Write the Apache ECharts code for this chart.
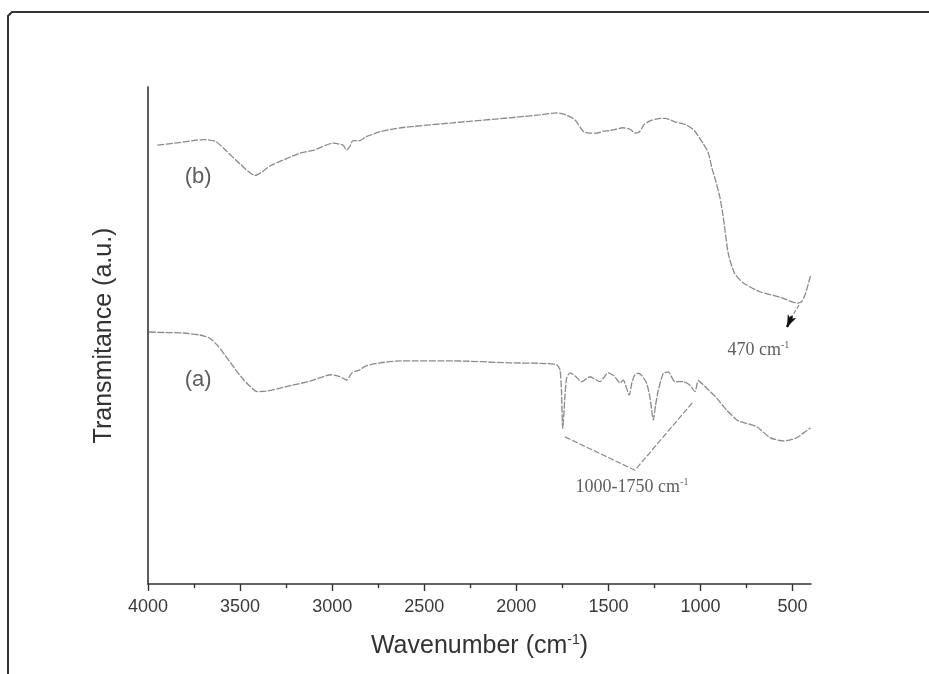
<!DOCTYPE html>
<html>
<head>
<meta charset="utf-8">
<script src="https://cdn.jsdelivr.net/npm/echarts@6/dist/echarts.min.js"></script>
<style>html,body{margin:0;padding:0;background:#fff;}#c{width:929px;height:674px;}</style>
</head>
<body>
<div id="c"></div>
<script>
// Wavenumber (cm-1) positions and transmittance (a.u.) values
var wavenumberB = [3949,3853,3737,3690,3631,3571,3500,3419,3381,3338,3175,3099,2995,2941,2922,2903,2887,2849,2816,2740,2626,2344,2037,1872,1779,1730,1682,1635,1600,1565,1529,1494,1459,1423,1383,1352,1329,1307,1274,1236,1193,1139,1079,1035,987,959,938,916,894,878,867,851,834,813,769,677,568,471,449,433,416,403];
var transB =     [88.3,88.7,89.3,89.4,89.0,87.0,84.5,82.2,82.9,84.1,86.7,87.3,88.7,88.3,87.3,88.1,89.2,89.2,90.0,91.0,91.8,92.8,93.8,94.4,94.8,94.4,93.4,91.0,90.7,90.7,91.1,91.2,91.5,91.8,91.5,90.7,91.1,92.4,93.2,93.6,93.7,93.0,92.4,91.3,88.7,86.9,83.7,80.9,77.7,74.2,71.2,66.8,64.4,62.4,60.6,58.8,57.7,56.5,56.9,58.1,60.2,62.0];

var wavenumberA = [3996,3908,3807,3718,3666,3620,3571,3528,3479,3446,3408,3359,3283,3218,3120,3006,2957,2922,2892,2851,2816,2740,2626,2344,2037,1872,1781,1763,1755,1748,1736,1727,1709,1682,1645,1600,1546,1501,1470,1437,1419,1387,1372,1356,1338,1318,1292,1274,1256,1244,1229,1202,1175,1139,1094,1057,1030,1012,966,912,858,803,786,693,621,549,479,433,403];
var transA =      [50.7,50.6,50.5,50.1,49.5,47.9,45.5,43.3,41.0,39.8,38.7,38.8,39.4,40.0,40.8,42.1,41.7,41.0,42.5,43.1,43.9,44.5,44.9,44.9,44.5,44.4,44.1,43.1,39.0,31.3,37.7,41.4,42.5,41.9,40.7,41.7,40.7,42.5,41.9,40.5,41.0,38.0,40.6,42.1,42.4,41.9,40.4,37.4,33.0,36.0,39.0,42.4,42.7,40.7,40.7,40.0,38.7,40.9,39.4,37.4,35.0,33.0,32.7,31.6,29.4,28.8,29.4,30.6,31.4];

// annotation bracket (1000-1750 region) and pointer to the 470 band
var bracketW = [1736,1356,1039];
var bracketT = [29.6,22.9,36.7];
var pointerW = [465,503];
var pointerT = [56.1,53.9];
var arrowFrom = [503,53.9];
var arrowTo = [530,51.7];

var majorTicks = [4000,3500,3000,2500,2000,1500,1000,500];
var minorTicks = [3750,3250,2750,2250,1750,1250,750];

var labelsText = [
  {name:'(b)', w:3728, t:81.9},
  {name:'(a)', w:3728, t:41.0}
];
var peakLabels = [
  {text:'{n|470 cm}{s|-1}', w:686, t:47.0},
  {text:'{n|1000-1750 cm}{s|-1}', w:1372, t:19.5}
];

function zip(xs, ys){ return xs.map(function(x,i){return [x, ys[i]];}); }

var chart = echarts.init(document.getElementById('c'), null, {renderer:'canvas'});
var curveStyle = {color:'#8a8a8a', width:1.3, type:[7,1.5]};
var option = {
  animation:false,
  backgroundColor:'#ffffff',
  grid:{left:148, right:118, top:87, bottom:90},
  xAxis:[{
    type:'value', min:400, max:4000, inverse:true,
    position:'bottom',
    name:'{a|Wavenumber (cm}{s|-1}{a|)}',
    nameLocation:'middle', nameGap:49,
    nameTextStyle:{rich:{
      a:{fontFamily:'Liberation Sans', fontSize:25, color:'#333'},
      s:{fontFamily:'Liberation Sans', fontSize:14, color:'#333', verticalAlign:'top', padding:[0,0,13,0]}
    }},
    axisLine:{show:true, lineStyle:{color:'#333', width:1.6}},
    axisTick:{show:true, inside:false, length:7, customValues:majorTicks, lineStyle:{color:'#333', width:1.4}},
    axisLabel:{show:true, customValues:majorTicks, margin:14, fontFamily:'Liberation Sans', fontSize:18, color:'#3a3a3a',
      formatter:function(v){return String(v);}},
    splitLine:{show:false}
  },{
    type:'value', min:400, max:4000, inverse:true,
    position:'bottom', offset:0,
    axisLine:{show:false},
    axisTick:{show:true, length:4, customValues:minorTicks, lineStyle:{color:'#333', width:1.4}},
    axisLabel:{show:false},
    splitLine:{show:false}
  }],
  yAxis:{
    type:'value', min:0, max:100,
    name:'Transmitance (a.u.)', nameLocation:'middle', nameGap:31, nameRotate:90,
    nameTextStyle:{fontFamily:'Liberation Sans', fontSize:25, color:'#333'},
    axisLine:{show:true, lineStyle:{color:'#333', width:1.6}},
    axisTick:{show:false}, axisLabel:{show:false}, splitLine:{show:false}
  },
  series:[
    {type:'line', data:zip(wavenumberB, transB), showSymbol:false, smooth:0.2, lineStyle:curveStyle, silent:true},
    {type:'line', data:zip(wavenumberA, transA), showSymbol:false, smooth:0.2, lineStyle:curveStyle, silent:true},
    {type:'line', data:zip(bracketW, bracketT), showSymbol:false, lineStyle:{color:'#8a8a8a', width:1.2, type:[6,2]}, silent:true},
    {type:'line', data:zip(pointerW, pointerT), showSymbol:false, lineStyle:{color:'#8a8a8a', width:1.2, type:[4,2]}, silent:true,
      markLine:{silent:true, symbol:['none','arrow'], symbolSize:[7,12], label:{show:false},
        lineStyle:{color:'#111', width:2.5, type:'solid'},
        data:[[{coord:arrowFrom},{coord:arrowTo}]]}},
    {type:'scatter', symbolSize:0, silent:true,
      data:labelsText.map(function(d){return {value:[d.w,d.t], name:d.name};}),
      label:{show:true, position:'inside', formatter:function(p){return p.name;}, fontFamily:'Liberation Sans', fontSize:22, color:'#333'}},
    {type:'scatter', symbolSize:0, silent:true,
      data:peakLabels.map(function(d){return {value:[d.w,d.t], name:d.text};}),
      label:{show:true, position:'inside', formatter:function(p){return p.name;},
        rich:{n:{fontFamily:'Liberation Serif', fontSize:18, color:'#333'},
              s:{fontFamily:'Liberation Serif', fontSize:10, color:'#333', verticalAlign:'top', padding:[0,0,10,0]}}}}
  ],
  graphic:[
    {type:'polyline', silent:true, shape:{points:[[8,674],[8,16],[12,12],[929,12]]}, style:{stroke:'#333', lineWidth:2, fill:null}}
  ]
};
chart.setOption(option);
</script>
</body>
</html>
